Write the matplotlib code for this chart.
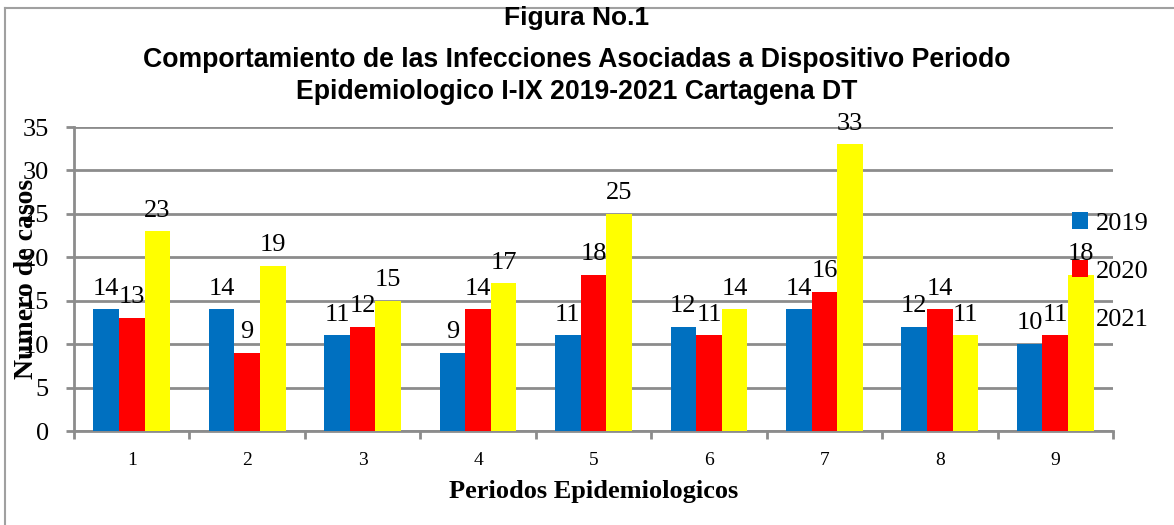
import numpy as np
import matplotlib.pyplot as plt
from matplotlib.lines import Line2D

periodos = ['1', '2', '3', '4', '5', '6', '7', '8', '9']
casos_2019 = [14, 14, 11, 9, 11, 12, 14, 12, 10]
casos_2020 = [13, 9, 12, 14, 18, 11, 16, 14, 11]
casos_2021 = [23, 19, 15, 17, 25, 14, 33, 11, 18]
series = ['2019', '2020', '2021']
colores = ['#0070C0', '#FF0000', '#FFFF00']

serif = 'Liberation Serif'
gris = '#8c8c8c'

fig = plt.figure(figsize=(11.74, 5.25), dpi=100)
ax = fig.add_axes([74/1174, 1 - 431/525, (1113 - 74)/1174, (431 - 127)/525])

x = np.arange(len(periodos))
w = 0.222
handles = []
for i, (vals, col, lab) in enumerate(zip([casos_2019, casos_2020, casos_2021], colores, series)):
    bars = ax.bar(x + (i - 1) * w, vals, w, color=col, label=lab, zorder=3)
    handles.append(bars)
    for b, v in zip(bars, vals):
        ax.annotate(str(v), (b.get_x() + b.get_width() / 2, v), xytext=(0, 7),
                    textcoords='offset points', ha='center', va='bottom',
                    fontsize=19, family=serif, zorder=4)

ax.set_xlim(-0.5, len(periodos) - 0.5)
ax.set_ylim(0, 35)
ax.set_yticks(range(0, 36, 5))
ax.yaxis.grid(True, color=gris, linewidth=2, zorder=0)
ax.set_xticks(x)
ax.set_xticklabels(periodos, family=serif, fontsize=14)
ax.set_xticks(np.arange(-0.5, len(periodos)), minor=True)
ax.tick_params(axis='x', which='major', length=0, pad=15)
ax.tick_params(axis='x', which='minor', length=6, width=2, color=gris)
ax.tick_params(axis='y', length=6, width=2, color=gris, pad=12, labelsize=19)
for t in ax.get_yticklabels():
    t.set_family(serif)
for s in ['top', 'right']:
    ax.spines[s].set_visible(False)
for s in ['left', 'bottom']:
    ax.spines[s].set_color(gris)
    ax.spines[s].set_linewidth(2)

ax.set_xlabel('Periodos Epidemiologicos', family=serif, fontsize=19,
              fontweight='bold', labelpad=8)
fig.text(27/1174, 1 - 279/525, 'Numero de casos', rotation=90, ha='center',
         va='center', family=serif, fontsize=20, fontweight='bold')

fig.legend(handles, series, loc='upper left',
           bbox_to_anchor=(1072/1174, 1 - 212/525), frameon=False,
           prop={'family': serif, 'size': 19}, handlelength=0.6,
           handleheight=0.6, handletextpad=0.3, labelspacing=0.97,
           borderaxespad=0, borderpad=0)

fig.text(0.491, 1 - 18/525, 'Figura No.1', ha='center', va='center',
         family='Liberation Sans', fontweight='bold', fontsize=19)
fig.text(0.491, 1 - 76/525,
         'Comportamiento de las Infecciones Asociadas a Dispositivo Periodo\n'
         'Epidemiologico I-IX 2019-2021 Cartagena DT',
         ha='center', va='center', family='Liberation Sans', fontweight='bold',
         fontsize=19.2, linespacing=1.33)

# marco del grafico
fig.add_artist(Line2D([5/1174, 5/1174], [0, 1 - 8/525], color='#a0a0a0', lw=1.5))
fig.add_artist(Line2D([5/1174, 1], [1 - 8/525, 1 - 8/525], color='#a0a0a0', lw=1.5))

fig.savefig('out.png', dpi=100)
